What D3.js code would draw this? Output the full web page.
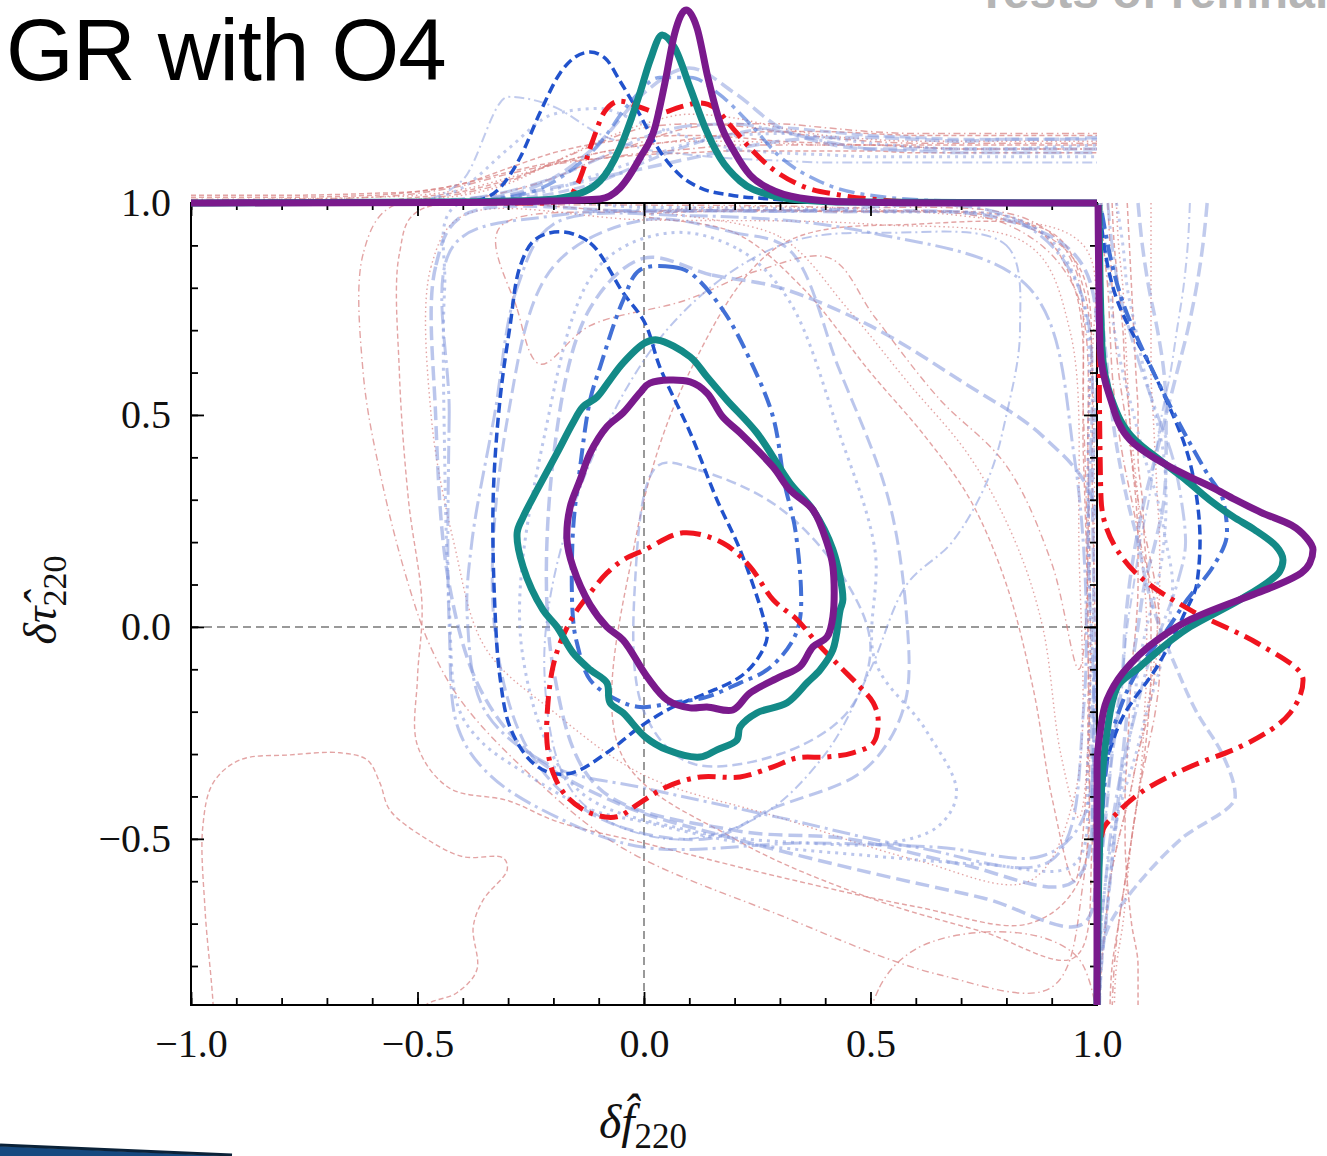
<!DOCTYPE html>
<html>
<head>
<meta charset="utf-8">
<script src="https://cdn.jsdelivr.net/npm/d3@7"></script>
<style>
  body { margin: 0; background: #fff; }
  svg { display: block; }
</style>
</head>
<body>
<svg id="chart" width="1327" height="1156"></svg>
<script>
// ---------------- data ----------------
// 90% credible contours, [df, dtau]
var contourTeal = [[0.002,0.670],[0.029,0.677],[0.102,0.637],[0.139,0.590],[0.183,0.535],[0.249,0.458],[0.322,0.340],[0.373,0.276],[0.417,0.182],[0.439,0.064],[0.433,0.040],[0.417,-0.054],[0.389,-0.101],[0.360,-0.132],[0.316,-0.179],[0.249,-0.203],[0.212,-0.236],[0.205,-0.267],[0.161,-0.290],[0.124,-0.307],[0.051,-0.290],[0.002,-0.259],[-0.046,-0.203],[-0.075,-0.179],[-0.082,-0.132],[-0.119,-0.101],[-0.157,-0.061],[-0.192,0.000],[-0.223,0.040],[-0.267,0.142],[-0.280,0.222],[-0.267,0.259],[-0.236,0.323],[-0.192,0.410],[-0.157,0.481],[-0.135,0.519],[-0.104,0.542],[-0.075,0.583],[-0.046,0.623]];
var contourPurple = [[-0.009,0.552],[0.013,0.575],[0.102,0.578],[0.139,0.552],[0.174,0.495],[0.212,0.458],[0.285,0.377],[0.322,0.323],[0.373,0.276],[0.404,0.198],[0.417,0.142],[0.417,0.024],[0.404,-0.024],[0.373,-0.047],[0.344,-0.094],[0.300,-0.118],[0.234,-0.156],[0.196,-0.196],[0.139,-0.189],[0.102,-0.191],[0.051,-0.172],[0.007,-0.118],[-0.046,-0.031],[-0.082,0.000],[-0.119,0.052],[-0.157,0.142],[-0.170,0.205],[-0.163,0.283],[-0.141,0.347],[-0.119,0.410],[-0.082,0.472],[-0.046,0.505]];
var contourRed = [[0.002,0.182],[0.086,0.222],[0.174,0.198],[0.234,0.142],[0.285,0.064],[0.338,0.017],[0.382,-0.038],[0.433,-0.094],[0.477,-0.142],[0.506,-0.179],[0.517,-0.219],[0.506,-0.274],[0.461,-0.297],[0.404,-0.307],[0.338,-0.309],[0.285,-0.330],[0.212,-0.354],[0.124,-0.354],[0.051,-0.377],[-0.009,-0.415],[-0.060,-0.448],[-0.119,-0.439],[-0.170,-0.401],[-0.201,-0.344],[-0.214,-0.274],[-0.212,-0.179],[-0.201,-0.094],[-0.185,-0.038],[-0.157,0.024],[-0.119,0.080],[-0.082,0.127],[-0.046,0.158]];
var contourBlueDash = [[-0.185,0.932],[-0.119,0.906],[-0.046,0.788],[0.002,0.717],[0.035,0.613],[0.102,0.458],[0.161,0.300],[0.212,0.182],[0.263,0.024],[0.272,-0.024],[0.249,-0.078],[0.212,-0.118],[0.139,-0.156],[0.064,-0.189],[-0.009,-0.236],[-0.082,-0.297],[-0.157,-0.344],[-0.208,-0.344],[-0.252,-0.314],[-0.296,-0.236],[-0.318,-0.118],[-0.329,0.040],[-0.333,0.300],[-0.318,0.535],[-0.296,0.708],[-0.274,0.849],[-0.241,0.913]];
var contourBlueDashDot = [[-0.009,0.842],[0.064,0.849],[0.102,0.835],[0.174,0.748],[0.234,0.630],[0.285,0.495],[0.310,0.340],[0.335,0.222],[0.345,0.024],[0.325,-0.038],[0.272,-0.101],[0.212,-0.132],[0.139,-0.165],[0.064,-0.179],[-0.009,-0.189],[-0.060,-0.172],[-0.119,-0.125],[-0.148,-0.038],[-0.157,0.024],[-0.157,0.222],[-0.141,0.377],[-0.119,0.535],[-0.097,0.613],[-0.046,0.771]];

// faint contours of the individual events
var faintRed1 = [[-0.56,0.99],[-0.62,0.88],[-0.62,0.6],[-0.58,0.35],[-0.52,0.1],[-0.47,-0.05],[-0.40,-0.18],[-0.25,-0.35],[-0.05,-0.52],[0.3,-0.68],[0.65,-0.82],[0.9,-0.85],[0.97,-0.6],[0.98,0.0],[0.97,0.5],[0.95,0.85],[0.85,0.96],[0.4,0.99],[0.0,0.995],[-0.3,0.995]];
var faintRed2 = [[-0.5,0.98],[-0.54,0.88],[-0.54,0.6],[-0.52,0.3],[-0.49,0.05],[-0.5,-0.12],[-0.5,-0.28],[-0.43,-0.38],[-0.3,-0.41],[-0.19,-0.46],[0.0,-0.51],[0.3,-0.59],[0.6,-0.66],[0.85,-0.70],[0.96,-0.6],[0.98,-0.2],[0.97,0.4],[0.95,0.8],[0.85,0.95],[0.5,0.98],[0.0,0.98]];
var faintRed3 = [[-0.4,0.97],[-0.47,0.85],[-0.47,0.5],[-0.42,0.2],[-0.35,-0.05],[-0.2,-0.2],[0.0,-0.35],[0.3,-0.45],[0.6,-0.55],[0.85,-0.6],[0.95,-0.4],[0.96,0.2],[0.94,0.7],[0.85,0.9],[0.5,0.95],[0.0,0.96]];
var faintRed4 = [[-0.32,0.94],[-0.28,0.75],[-0.23,0.62],[-0.12,0.71],[0.09,0.77],[0.25,0.84],[0.41,0.87],[0.51,0.73],[0.65,0.54],[0.8,0.38],[0.9,0.15],[0.96,-0.1],[0.98,0.4],[0.95,0.8],[0.8,0.95],[0.4,0.98],[0.0,0.98]];
var faintRed5 = [[0.0,0.97],[0.2,0.93],[0.35,0.8],[0.5,0.6],[0.62,0.45],[0.72,0.3],[0.8,0.1],[0.86,-0.15],[0.9,-0.4],[0.95,-0.6],[0.98,-0.3],[0.98,0.4],[0.96,0.85],[0.8,0.96],[0.4,0.98]];
var faintRed6 = [[0.05,0.98],[0.3,0.92],[0.45,0.75],[0.58,0.58],[0.72,0.4],[0.82,0.2],[0.88,0.0],[0.92,-0.3],[0.96,-0.45],[0.99,0.0],[0.99,0.6],[0.97,0.9],[0.7,0.97]];
var faintRed7 = [[-0.95,-1.0],[-0.951,-0.896],[-0.969,-0.667],[-0.974,-0.472],[-0.951,-0.368],[-0.892,-0.314],[-0.781,-0.302],[-0.671,-0.297],[-0.611,-0.314],[-0.583,-0.368],[-0.561,-0.432],[-0.488,-0.495],[-0.400,-0.542],[-0.311,-0.545],[-0.302,-0.573],[-0.355,-0.644],[-0.377,-0.708],[-0.369,-0.809],[-0.413,-0.863],[-0.488,-0.896],[-0.55,-1.0]];
var faintRed8 = [[0.5,-1.0],[0.52,-0.85],[0.6,-0.76],[0.75,-0.72],[0.9,-0.74],[0.97,-0.8],[0.98,-1.0]];
var faintRed9 = [[-0.05,-0.3],[0.2,-0.5],[0.5,-0.64],[0.75,-0.72],[0.95,-0.78],[0.99,-0.5],[0.99,0.3],[0.97,0.8],[0.9,0.93],[0.6,0.95],[0.3,0.9],[0.1,0.6],[-0.02,0.2]];
var faintRedContours = [faintRed1, faintRed2, faintRed3, faintRed4, faintRed5, faintRed6, faintRed7, faintRed8, faintRed9];

var faintBlue1 = [[-0.42,0.99],[-0.44,0.8],[-0.44,0.4],[-0.43,0.05],[-0.41,-0.19],[-0.36,-0.27],[-0.27,-0.34],[-0.12,-0.43],[0.0,-0.46],[0.22,-0.51],[0.5,-0.54],[0.75,-0.56],[0.95,-0.56],[0.98,-0.3],[0.98,0.3],[0.96,0.8],[0.85,0.95],[0.5,0.98],[0.0,0.99]];
var faintBlue2 = [[-0.4,0.97],[-0.46,0.85],[-0.46,0.5],[-0.43,0.1],[-0.36,-0.15],[-0.25,-0.3],[-0.05,-0.42],[0.2,-0.5],[0.5,-0.58],[0.75,-0.64],[0.97,-0.7],[0.99,-0.4],[0.99,0.3],[0.97,0.85],[0.8,0.96],[0.4,0.98],[0.0,0.98]];
var faintBlue3 = [[-0.42,0.9],[-0.43,0.5],[-0.43,0.0],[-0.41,-0.24],[-0.34,-0.35],[-0.19,-0.45],[0.0,-0.52],[0.36,-0.51],[0.65,-0.52],[0.88,-0.54],[0.97,-0.45],[0.98,0.2],[0.96,0.8],[0.8,0.97],[0.3,0.98],[-0.2,0.97]];
var faintBlue4 = [[0.0,0.96],[0.2,0.93],[0.32,0.89],[0.43,0.61],[0.54,0.30],[0.58,0.02],[0.58,-0.16],[0.54,-0.27],[0.47,-0.35],[0.28,-0.43],[0.14,-0.5],[-0.1,-0.45],[-0.25,-0.3],[-0.33,0.0],[-0.3,0.5],[-0.2,0.85]];
var faintBlue5 = [[0.0,0.87],[0.15,0.83],[0.3,0.8],[0.5,0.71],[0.7,0.58],[0.88,0.45],[0.99,0.3],[0.99,-0.2],[0.95,-0.6],[0.7,-0.56],[0.45,-0.5],[0.2,-0.48],[-0.1,-0.38],[-0.2,-0.1],[-0.2,0.4],[-0.12,0.75]];
var faintBlue6 = [[0.55,0.93],[0.8,0.9],[0.83,0.7],[0.8,0.5],[0.76,0.35],[0.68,0.2],[0.58,0.1],[0.5,-0.1],[0.4,-0.3],[0.25,-0.45],[0.05,-0.5],[-0.15,-0.4],[-0.22,-0.1],[-0.15,0.3],[0.05,0.7],[0.3,0.9]];
var faintBlue7 = [[0.06,0.93],[0.21,0.89],[0.32,0.77],[0.43,0.46],[0.51,0.18],[0.51,-0.08],[0.62,-0.24],[0.69,-0.39],[0.65,-0.47],[0.54,-0.51],[0.36,-0.51],[0.1,-0.48],[-0.15,-0.38],[-0.27,-0.05],[-0.22,0.45],[-0.1,0.85]];
var faintBlue8 = [[0.03,0.38],[0.12,0.37],[0.3,0.28],[0.45,0.1],[0.5,-0.05],[0.45,-0.2],[0.3,-0.3],[0.1,-0.32],[0.0,-0.2],[-0.02,0.1]];
var faintBlue9 = [[-0.2,0.95],[-0.28,0.8],[-0.33,0.5],[-0.38,0.2],[-0.39,0.02],[-0.35,-0.2],[-0.2,-0.33],[0.0,-0.38],[0.3,-0.45],[0.6,-0.52],[0.9,-0.55],[0.97,-0.2],[0.95,0.4],[0.85,0.8],[0.5,0.93],[0.1,0.97]];
var faintBlueContours = [faintBlue1, faintBlue2, faintBlue3, faintBlue4, faintBlue5, faintBlue6, faintBlue7, faintBlue8, faintBlue9];

// top marginals (density normalised to the purple peak)
var topPurpleX = [-1,-0.428,-0.208,-0.097,-0.053,-0.009,0.024,0.046,0.068,0.093,0.117,0.141,0.168,0.201,0.234,0.278,0.344,0.455,0.675,1];
var topPurple  = [0,0.003,0.010,0.021,0.078,0.233,0.39,0.62,0.881,1.0,0.907,0.65,0.415,0.259,0.145,0.073,0.026,0.005,0,0];
var topTealX = [-1,-0.428,-0.230,-0.163,-0.097,-0.053,-0.009,0.013,0.040,0.068,0.102,0.135,0.168,0.212,0.278,0.344,0.455,1];
var topTeal  = [0,0.005,0.016,0.036,0.114,0.285,0.570,0.736,0.870,0.803,0.596,0.389,0.233,0.114,0.041,0.016,0.005,0];
var topBlueDashX = [-1,-0.406,-0.362,-0.318,-0.274,-0.230,-0.185,-0.152,-0.119,-0.086,-0.053,-0.009,0.035,0.079,0.124,0.190,0.278,0.411,1];
var topBlueDash  = [0,0,0.016,0.078,0.233,0.466,0.674,0.756,0.782,0.751,0.632,0.456,0.269,0.145,0.078,0.041,0.021,0.005,0];
var topRedX = [-1,-0.230,-0.174,-0.141,-0.115,-0.086,-0.053,-0.009,0.035,0.079,0.124,0.157,0.190,0.234,0.278,0.344,0.433,0.521,0.675,1];
var topRed  = [0,0,0.016,0.130,0.311,0.477,0.528,0.497,0.466,0.497,0.518,0.492,0.404,0.285,0.187,0.093,0.041,0.016,0,0];
var topBlueDashDotX = [-1,-0.428,-0.274,-0.185,-0.097,-0.031,0.035,0.102,0.168,0.234,0.300,0.389,0.499,0.675,1];
var topBlueDashDot  = [0,0.005,0.041,0.130,0.311,0.52,0.65,0.65,0.56,0.41,0.24,0.11,0.04,0.01,0];

var topGridX = [-1,-0.8,-0.6,-0.5,-0.4,-0.3,-0.2,-0.1,0,0.1,0.2,0.3,0.4,0.5,0.6,0.7,0.8,0.9,1.0];
var topFaintRed = [
  [.04,.04,.05,.06,.10,.16,.21,.23,.25,.26,.27,.27,.27,.27,.26,.26,.26,.26,.26],
  [.02,.02,.03,.05,.09,.15,.20,.23,.26,.28,.30,.30,.30,.30,.29,.28,.28,.28,.28],
  [.01,.02,.03,.04,.07,.13,.20,.26,.30,.32,.32,.31,.30,.30,.29,.28,.28,.28,.28],
  [.03,.03,.04,.06,.10,.18,.26,.31,.34,.35,.34,.32,.31,.30,.30,.30,.30,.30,.30],
  [.01,.01,.01,.02,.05,.11,.21,.31,.39,.41,.40,.37,.34,.32,.31,.31,.31,.31,.31],
  [0,0,.01,.02,.04,.10,.21,.32,.41,.46,.44,.39,.35,.33,.32,.32,.32,.32,.32],
  [.01,.01,.01,.03,.06,.12,.20,.26,.30,.33,.36,.37,.37,.36,.35,.35,.35,.35,.35],
  [0,0,0,.01,.02,.06,.13,.23,.32,.39,.41,.41,.39,.37,.36,.36,.36,.36,.36]
];
var topFaintBlue = [
  [0,0,0,.01,.12,.55,.50,.36,.28,.25,.23,.22,.21,.21,.21,.21,.21,.21,.21],
  [0,0,0,.01,.08,.28,.46,.49,.41,.34,.28,.26,.25,.24,.24,.24,.24,.24,.24],
  [0,0,0,0,.01,.04,.13,.31,.57,.70,.57,.39,.31,.28,.28,.28,.28,.28,.28],
  [0,0,0,.01,.02,.04,.08,.13,.18,.23,.28,.32,.34,.34,.33,.32,.33,.33,.34],
  [0,0,0,0,.01,.03,.07,.15,.23,.31,.35,.36,.34,.31,.29,.28,.28,.29,.30],
  [0,0,0,.01,.02,.06,.13,.23,.34,.40,.41,.37,.32,.28,.27,.26,.26,.26,.26],
  [0,0,0,0,.01,.02,.05,.11,.21,.30,.36,.39,.37,.35,.34,.33,.33,.33,.33]
];

// right marginals: [dtau, density]
var rightPurple = [[0.995,0.005],[0.660,0.014],[0.542,0.060],[0.441,0.153],[0.400,0.26],[0.377,0.34],[0.354,0.43],[0.330,0.53],[0.300,0.64],[0.270,0.76],[0.240,0.90],[0.210,0.97],[0.182,1.0],[0.150,0.985],[0.127,0.945],[0.100,0.84],[0.080,0.741],[0.017,0.431],[-0.031,0.278],[-0.108,0.120],[-0.172,0.046],[-0.250,0.014],[-0.330,0.0],[-0.892,0]];
var rightTeal = [[0.995,0.009],[0.660,0.023],[0.535,0.069],[0.441,0.176],[0.390,0.30],[0.347,0.41],[0.300,0.52],[0.260,0.63],[0.229,0.73],[0.190,0.83],[0.158,0.861],[0.130,0.845],[0.111,0.805],[0.064,0.662],[0.000,0.431],[-0.094,0.199],[-0.142,0.093],[-0.250,0.046],[-0.330,0.028],[-0.486,0.014],[-0.892,0]];
var rightRed = [[0.995,0.002],[0.700,0.009],[0.417,0.014],[0.300,0.019],[0.182,0.093],[0.118,0.199],[0.040,0.431],[-0.038,0.741],[-0.125,0.954],[-0.203,0.894],[-0.283,0.662],[-0.330,0.431],[-0.377,0.245],[-0.439,0.093],[-0.479,0.028],[-0.573,0.005],[-0.892,0]];
var rightBlueDash = [[0.976,0.014],[0.771,0.093],[0.583,0.278],[0.387,0.431],[0.300,0.463],[0.205,0.477],[0.104,0.463],[0.024,0.398],[-0.094,0.278],[-0.212,0.120],[-0.290,0.060],[-0.408,0.023],[-0.644,0.005],[-0.892,0]];
var rightBlueDashDot = [[0.976,0.023],[0.771,0.116],[0.583,0.278],[0.363,0.509],[0.300,0.583],[0.222,0.602],[0.142,0.537],[0.064,0.417],[-0.007,0.324],[-0.094,0.199],[-0.212,0.093],[-0.361,0.037],[-0.644,0.009],[-0.892,0]];

var rightGridY = [1.0,0.9,0.8,0.7,0.6,0.5,0.4,0.3,0.2,0.1,0.0,-0.1,-0.2,-0.3,-0.4,-0.5,-0.6,-0.7,-0.8,-0.9];
var rightFaintRed = [
  [.07,.08,.10,.12,.13,.15,.16,.18,.19,.19,.18,.16,.15,.14,.13,.13,.14,.16,.19,.19],
  [.09,.10,.12,.13,.14,.15,.17,.19,.20,.22,.23,.23,.22,.21,.19,.16,.14,.12,.09,.08],
  [.05,.06,.07,.08,.10,.13,.16,.19,.23,.27,.29,.29,.27,.23,.19,.16,.13,.10,.08,.07],
  [.14,.15,.16,.17,.18,.19,.19,.21,.22,.24,.25,.25,.24,.22,.19,.16,.13,.10,.07,.06],
  [.25,.25,.25,.25,.25,.26,.27,.28,.29,.29,.28,.26,.23,.19,.15,.10,.06,.04,.02,.01],
  [.02,.03,.05,.06,.07,.09,.12,.16,.20,.25,.28,.27,.24,.19,.15,.10,.06,.04,.02,.01]
];
var rightFaintBlue = [
  [.43,.42,.40,.37,.34,.30,.27,.24,.20,.17,.14,.12,.09,.07,.05,.03,.01,0,0,0],
  [.51,.49,.46,.42,.37,.32,.27,.22,.18,.15,.13,.12,.10,.07,.05,.03,.01,0,0,0],
  [.01,.01,.02,.03,.05,.07,.10,.14,.19,.23,.29,.37,.46,.58,.64,.39,.20,.06,.01,0],
  [.09,.12,.14,.18,.22,.27,.31,.32,.31,.28,.23,.19,.17,.14,.11,.08,.06,.04,.02,.01],
  [.05,.07,.10,.15,.21,.28,.35,.39,.41,.37,.30,.23,.18,.13,.09,.06,.04,.02,.01,0],
  [.19,.21,.24,.28,.31,.32,.32,.31,.27,.22,.19,.16,.14,.12,.10,.08,.06,.04,.02,.01],
  [.02,.04,.06,.08,.12,.17,.22,.28,.32,.35,.33,.29,.23,.18,.12,.07,.04,.02,.01,0]
];

var xTicksMajor = [-1.0, -0.5, 0.0, 0.5, 1.0];
var yTicksMajor = [-0.5, 0.0, 0.5, 1.0];

// ---------------- layout ----------------
var svg = d3.select("#chart");
var pL = 191, pR = 1097, pT = 203, pB = 1005;

var x = d3.scaleLinear().domain([-1, 1]).range([pL, pR]);
var y = d3.scaleLinear().domain([-0.892, 1.0]).range([pB, pT]);
var yTop = d3.scaleLinear().domain([0, 1]).range([pT, 10]);
var xRight = d3.scaleLinear().domain([0, 1]).range([pR, 1313]);

var defs = svg.append("defs");
defs.append("clipPath").attr("id", "clipMain").append("rect")
    .attr("x", pL).attr("y", pT).attr("width", pR - pL).attr("height", pB - pT);
defs.append("clipPath").attr("id", "clipTop").append("rect")
    .attr("x", pL - 2).attr("y", 0).attr("width", pR - pL + 4).attr("height", pT + 4);
defs.append("clipPath").attr("id", "clipRight").append("rect")
    .attr("x", pR - 4).attr("y", pT - 4).attr("width", 1327 - pR + 4).attr("height", pB - pT + 4);

// styles
var DASH = "11,5", LDASH = "14,6", DDOT = "18,5,3,5", DOT = "3,5";
var rDASH = "5,3", rDDOT = "7,3.5,1.5,3.5", rDOT = "1.5,3";
var faintRedColor = "#d98585", faintBlueColor = "#8497dc";

// slide title and cut header
svg.append("text").attr("x", 6).attr("y", 80)
    .style("font-family", "Liberation Sans, Arial, sans-serif").style("font-size", "87px")
    .style("letter-spacing", "-1px").attr("fill", "#000").text("GR with O4");
svg.append("text").attr("x", 977).attr("y", 8)
    .style("font-family", "Liberation Sans, Arial, sans-serif").style("font-size", "48px")
    .style("font-weight", "bold").attr("fill", "#b5b5b5").text("Tests of remnant properties");

// slide footer stripe
svg.append("path").attr("d", "M0,1146 L232,1156 L0,1156 Z").attr("fill", "#16497f");
svg.append("path").attr("d", "M0,1145 L232,1155").attr("stroke", "#0b2238").attr("stroke-width", 3).attr("fill", "none");

// ---------------- main panel ----------------
var mainG = svg.append("g").attr("clip-path", "url(#clipMain)");

mainG.append("line").attr("x1", x(0)).attr("x2", x(0)).attr("y1", pT).attr("y2", pB)
    .attr("stroke", "#999").attr("stroke-width", 2).attr("stroke-dasharray", "8,5");
mainG.append("line").attr("x1", pL).attr("x2", pR).attr("y1", y(0)).attr("y2", y(0))
    .attr("stroke", "#999").attr("stroke-width", 2).attr("stroke-dasharray", "8,5");

var contourLine = d3.line().x(function(d) { return x(d[0]); }).y(function(d) { return y(d[1]); })
    .curve(d3.curveCatmullRomClosed.alpha(0.5));

var redFaintDash = [rDDOT, rDASH, rDOT, rDDOT, rDASH, rDOT, rDASH, rDDOT, rDASH];
mainG.append("g").selectAll("path").data(faintRedContours).enter().append("path")
    .attr("d", contourLine).attr("fill", "none").attr("stroke", faintRedColor)
    .attr("stroke-opacity", 0.75).attr("stroke-width", 1.4)
    .attr("stroke-dasharray", function(d, i) { return redFaintDash[i]; });

var blueFaintDash = [DOT, LDASH, DDOT, LDASH, LDASH, "10,4,2,4", DOT, "10,5", DDOT];
var blueFaintWidth = [3, 3.5, 3, 3, 3.5, 2, 3, 2.5, 3];
mainG.append("g").selectAll("path").data(faintBlueContours).enter().append("path")
    .attr("d", contourLine).attr("fill", "none").attr("stroke", faintBlueColor)
    .attr("stroke-opacity", 0.55)
    .attr("stroke-width", function(d, i) { return blueFaintWidth[i]; })
    .attr("stroke-dasharray", function(d, i) { return blueFaintDash[i]; });

// ---------------- axes ----------------
var fmt = d3.format(".1f");
var minorX = d3.range(-10, 11).map(function(i) { return i / 10; });
var minorY = d3.range(-8, 11).map(function(i) { return i / 10; });
var axisFont = "Liberation Serif, Times New Roman, serif";

function styleAxis(g) {
  g.select(".domain").remove();
  g.selectAll(".tick line").attr("stroke", "#000").attr("stroke-width", 1.8);
  g.selectAll(".tick text").style("font-family", axisFont).style("font-size", "40px").attr("fill", "#111");
}

svg.append("g").attr("transform", "translate(0," + pB + ")")
    .call(d3.axisBottom(x).tickValues(minorX).tickSize(-7).tickFormat(""))
    .call(styleAxis);
svg.append("g").attr("transform", "translate(0," + pB + ")")
    .call(d3.axisBottom(x).tickValues(xTicksMajor).tickSize(-13).tickPadding(24).tickFormat(fmt))
    .call(styleAxis);
svg.append("g").attr("transform", "translate(0," + pT + ")")
    .call(d3.axisTop(x).tickValues(minorX).tickSize(-7).tickFormat(""))
    .call(styleAxis);
svg.append("g").attr("transform", "translate(0," + pT + ")")
    .call(d3.axisTop(x).tickValues(xTicksMajor).tickSize(-13).tickFormat(""))
    .call(styleAxis);
svg.append("g").attr("transform", "translate(" + pL + ",0)")
    .call(d3.axisLeft(y).tickValues(minorY).tickSize(-7).tickFormat(""))
    .call(styleAxis);
svg.append("g").attr("transform", "translate(" + pL + ",0)")
    .call(d3.axisLeft(y).tickValues(yTicksMajor).tickSize(-13).tickPadding(20).tickFormat(fmt))
    .call(styleAxis);
svg.append("g").attr("transform", "translate(" + pR + ",0)")
    .call(d3.axisRight(y).tickValues(minorY).tickSize(-7).tickFormat(""))
    .call(styleAxis);
svg.append("g").attr("transform", "translate(" + pR + ",0)")
    .call(d3.axisRight(y).tickValues(yTicksMajor).tickSize(-13).tickFormat(""))
    .call(styleAxis);

svg.append("rect").attr("x", pL).attr("y", pT).attr("width", pR - pL).attr("height", pB - pT)
    .attr("fill", "none").attr("stroke", "#000").attr("stroke-width", 2);

// axis labels
var ylab = svg.append("text").attr("transform", "translate(56,600) rotate(-90)")
    .attr("text-anchor", "middle").style("font-family", axisFont).style("font-size", "46px").attr("fill", "#111");
ylab.append("tspan").style("font-style", "italic").text("\u03b4\u03c4\u0302");
ylab.append("tspan").attr("dy", 10).style("font-size", "34px").text("220");
var xlab = svg.append("text").attr("x", 643).attr("y", 1138)
    .attr("text-anchor", "middle").style("font-family", axisFont).style("font-size", "48px").attr("fill", "#111");
xlab.append("tspan").style("font-style", "italic").text("\u03b4f\u0302");
xlab.append("tspan").attr("dy", 10).style("font-size", "35px").text("220");

// ---------------- bold contours ----------------
var boldG = svg.append("g").attr("clip-path", "url(#clipMain)");
boldG.append("path").datum(contourBlueDash).attr("d", contourLine).attr("fill", "none")
    .attr("stroke", "#2152cc").attr("stroke-width", 3.5).attr("stroke-dasharray", "10,5");
boldG.append("path").datum(contourBlueDashDot).attr("d", contourLine).attr("fill", "none")
    .attr("stroke", "#4270d6").attr("stroke-width", 4).attr("stroke-dasharray", "16,6,4,6");
boldG.append("path").datum(contourRed).attr("d", contourLine).attr("fill", "none")
    .attr("stroke", "#f0141e").attr("stroke-width", 5).attr("stroke-dasharray", "18,7,4,7");
boldG.append("path").datum(contourTeal).attr("d", contourLine).attr("fill", "none")
    .attr("stroke", "#138a87").attr("stroke-width", 7).attr("stroke-linejoin", "round");
boldG.append("path").datum(contourPurple).attr("d", contourLine).attr("fill", "none")
    .attr("stroke", "#7a1a8c").attr("stroke-width", 7).attr("stroke-linejoin", "round");

// ---------------- top marginal ----------------
var topG = svg.append("g").attr("clip-path", "url(#clipTop)");
function topLine(xs) {
  return d3.line().x(function(d, i) { return x(xs[i]); }).y(function(d) { return yTop(d); })
      .curve(d3.curveMonotoneX);
}
var topRedDash = [rDASH, rDDOT, rDOT, rDASH, rDDOT, rDOT, rDASH, rDDOT];
topG.append("g").selectAll("path").data(topFaintRed).enter().append("path")
    .attr("d", topLine(topGridX)).attr("fill", "none").attr("stroke", faintRedColor)
    .attr("stroke-opacity", 0.75).attr("stroke-width", 1.5)
    .attr("stroke-dasharray", function(d, i) { return topRedDash[i]; });
var topBlueDashes = ["10,4,2,4", DOT, LDASH, LDASH, DOT, DDOT, DASH];
var topBlueWidth = [2, 3, 3.5, 3.5, 3, 3, 3];
topG.append("g").selectAll("path").data(topFaintBlue).enter().append("path")
    .attr("d", topLine(topGridX)).attr("fill", "none").attr("stroke", faintBlueColor)
    .attr("stroke-opacity", 0.5)
    .attr("stroke-width", function(d, i) { return topBlueWidth[i]; })
    .attr("stroke-dasharray", function(d, i) { return topBlueDashes[i]; });

topG.append("path").datum(topBlueDash).attr("d", topLine(topBlueDashX)).attr("fill", "none")
    .attr("stroke", "#2152cc").attr("stroke-width", 3.5).attr("stroke-dasharray", "10,5");
topG.append("path").datum(topBlueDashDot).attr("d", topLine(topBlueDashDotX)).attr("fill", "none")
    .attr("stroke", "#4270d6").attr("stroke-opacity", 0.6).attr("stroke-width", 3.5).attr("stroke-dasharray", "16,6,4,6");
topG.append("path").datum(topRed).attr("d", topLine(topRedX)).attr("fill", "none")
    .attr("stroke", "#f0141e").attr("stroke-width", 5).attr("stroke-dasharray", "18,7,4,7");
topG.append("path").datum(topTeal).attr("d", topLine(topTealX)).attr("fill", "none")
    .attr("stroke", "#138a87").attr("stroke-width", 7);
topG.append("path").datum(topPurple).attr("d", topLine(topPurpleX)).attr("fill", "none")
    .attr("stroke", "#7a1a8c").attr("stroke-width", 7);

// ---------------- right marginal ----------------
var rightG = svg.append("g").attr("clip-path", "url(#clipRight)");
var rightLine = d3.line().x(function(d) { return xRight(d[1]); }).y(function(d) { return y(d[0]); })
    .curve(d3.curveMonotoneY);
function gridPairs(vals) { return vals.map(function(v, i) { return [rightGridY[i], v]; }); }

var rightRedDash = [rDASH, rDOT, rDDOT, rDASH, rDOT, rDDOT];
rightG.append("g").selectAll("path").data(rightFaintRed.map(gridPairs)).enter().append("path")
    .attr("d", rightLine).attr("fill", "none").attr("stroke", faintRedColor)
    .attr("stroke-opacity", 0.75).attr("stroke-width", 1.5)
    .attr("stroke-dasharray", function(d, i) { return rightRedDash[i]; });
var rightBlueDashes = ["10,4,2,4", LDASH, DASH, DOT, DDOT, LDASH, DOT];
var rightBlueWidth = [2, 3.5, 3.5, 3, 3, 3.5, 3];
rightG.append("g").selectAll("path").data(rightFaintBlue.map(gridPairs)).enter().append("path")
    .attr("d", rightLine).attr("fill", "none").attr("stroke", faintBlueColor)
    .attr("stroke-opacity", 0.5)
    .attr("stroke-width", function(d, i) { return rightBlueWidth[i]; })
    .attr("stroke-dasharray", function(d, i) { return rightBlueDashes[i]; });

rightG.append("path").datum(rightBlueDash).attr("d", rightLine).attr("fill", "none")
    .attr("stroke", "#2152cc").attr("stroke-width", 3.5).attr("stroke-dasharray", "10,5");
rightG.append("path").datum(rightBlueDashDot).attr("d", rightLine).attr("fill", "none")
    .attr("stroke", "#4270d6").attr("stroke-width", 4).attr("stroke-dasharray", "16,6,4,6");
rightG.append("path").datum(rightRed).attr("d", rightLine).attr("fill", "none")
    .attr("stroke", "#f0141e").attr("stroke-width", 5).attr("stroke-dasharray", "18,7,4,7");
rightG.append("path").datum(rightTeal).attr("d", rightLine).attr("fill", "none")
    .attr("stroke", "#138a87").attr("stroke-width", 7);
rightG.append("path").datum(rightPurple).attr("d", rightLine).attr("fill", "none")
    .attr("stroke", "#7a1a8c").attr("stroke-width", 7);
</script>
</body>
</html>
